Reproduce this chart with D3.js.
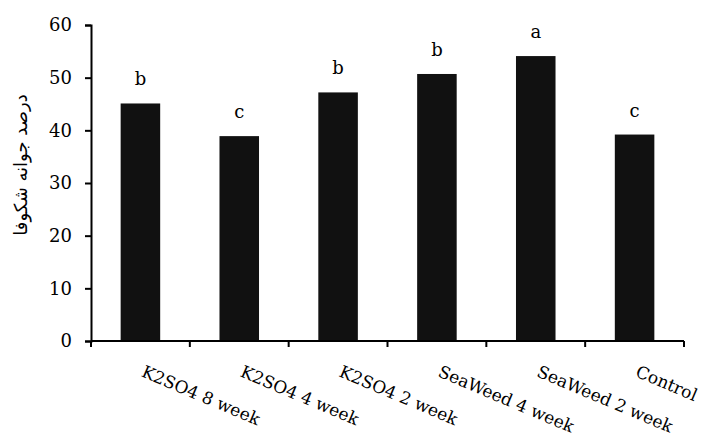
<!DOCTYPE html>
<html>
<head>
<meta charset="utf-8">
<script src="https://cdn.jsdelivr.net/npm/d3@7"></script>
<style>
	body { margin: 0; background: #fff; }
	svg { display: block; }
	.serif { font-family: "DejaVu Serif", "Liberation Serif", serif; }
</style>
</head>
<body>
<div id="chart"></div>
<script>
// chart data
var categories = ["K2SO4 8 week", "K2SO4 4 week", "K2SO4 2 week", "SeaWeed 4 week", "SeaWeed 2 week", "Control"];
var values = [45.1, 38.9, 47.2, 50.7, 54.1, 39.2];
var letters = ["b", "c", "b", "b", "a", "c"];
var yTicks = [0, 10, 20, 30, 40, 50, 60];
var yTitle = "درصد جوانه شکوفا";

var width = 702, height = 443;
var margin = {top: 25, right: 18, bottom: 102, left: 91};

var svg = d3.select("#chart").append("svg")
	.attr("width", width)
	.attr("height", height);

var x = d3.scaleBand()
	.domain(categories)
	.range([margin.left, width - margin.right])
	.paddingInner(0.6)
	.paddingOuter(0.3);

var y = d3.scaleLinear()
	.domain([0, 60])
	.range([height - margin.bottom, margin.top]);

// bars
svg.append("g")
	.selectAll("rect")
	.data(values)
	.join("rect")
		.attr("x", (d, i) => x(categories[i]))
		.attr("y", d => y(d))
		.attr("width", x.bandwidth())
		.attr("height", d => y(0) - y(d))
		.attr("fill", "#111");

// significance letters
svg.append("g")
	.selectAll("text")
	.data(values)
	.join("text")
		.attr("class", "serif")
		.attr("x", (d, i) => x(categories[i]) + x.bandwidth() / 2)
		.attr("y", d => y(d) - 18)
		.attr("text-anchor", "middle")
		.attr("font-size", 18)
		.text((d, i) => letters[i]);

// y axis
var yAxis = svg.append("g")
	.attr("transform", "translate(" + margin.left + ",0)")
	.call(d3.axisLeft(y).tickValues(yTicks).tickSize(6).tickPadding(13));
yAxis.attr("font-family", null);
yAxis.select(".domain").attr("stroke-width", 2);
yAxis.selectAll(".tick line").attr("stroke-width", 2);
yAxis.selectAll(".tick text")
	.attr("class", "serif")
	.attr("font-size", 18)
	.attr("fill", "#000");

// x axis, ticks at band edges
var step = x.step();
var edges = d3.range(categories.length + 1).map(i => x.range()[0] + i * step);
var xAxisG = svg.append("g")
	.attr("transform", "translate(0," + y(0) + ")");
xAxisG.append("line")
	.attr("x1", margin.left)
	.attr("x2", edges[edges.length - 1])
	.attr("stroke", "#000")
	.attr("stroke-width", 2);
xAxisG.selectAll(".edge")
	.data(edges)
	.join("line")
		.attr("class", "edge")
		.attr("x1", d => d)
		.attr("x2", d => d)
		.attr("y1", 0)
		.attr("y2", 6)
		.attr("stroke", "#000")
		.attr("stroke-width", 2);

// rotated category labels
xAxisG.selectAll(".cat")
	.data(categories)
	.join("text")
		.attr("class", "serif")
		.attr("transform", d => "translate(" + (x(d) + x.bandwidth() / 2) + ",35) rotate(23)")
		.attr("font-size", 17)
		.text(d => d);

// y title
svg.append("text")
	.attr("transform", "translate(27," + 165 + ") rotate(-90)")
	.attr("text-anchor", "middle")
	.attr("font-family", "DejaVu Sans, sans-serif")
	.attr("font-size", 18)
	.text(yTitle);
</script>
</body>
</html>
